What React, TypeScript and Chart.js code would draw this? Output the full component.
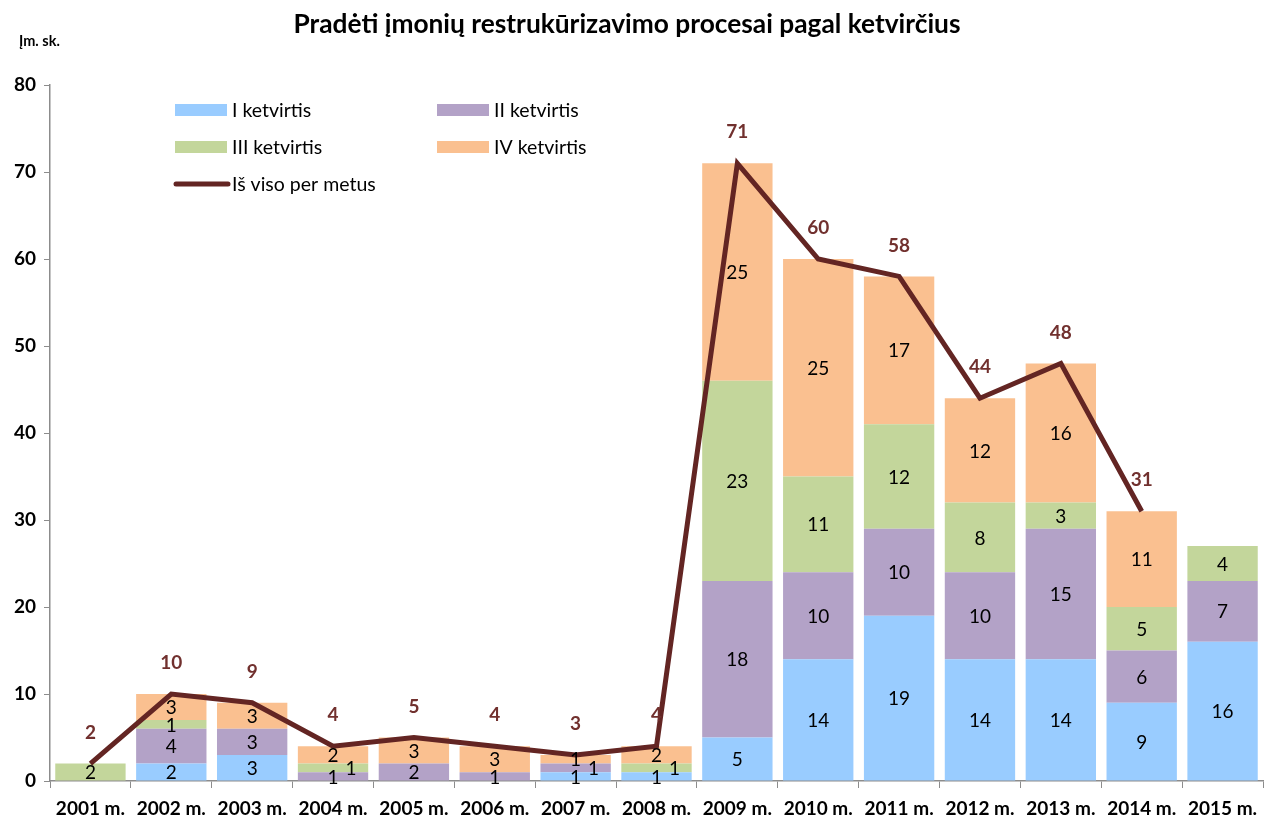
import React, { useEffect, useRef } from "react";
import { Chart, registerables } from "chart.js";

Chart.register(...registerables);

const categories = ["2001 m.", "2002 m.", "2003 m.", "2004 m.", "2005 m.", "2006 m.", "2007 m.", "2008 m.", "2009 m.", "2010 m.", "2011 m.", "2012 m.", "2013 m.", "2014 m.", "2015 m."];
const q1 = [0, 2, 3, 0, 0, 0, 1, 1, 5, 14, 19, 14, 14, 9, 16];
const q2 = [0, 4, 3, 1, 2, 1, 1, 0, 18, 10, 10, 10, 15, 6, 7];
const q3 = [2, 1, 0, 1, 0, 0, 0, 1, 23, 11, 12, 8, 3, 5, 4];
const q4 = [0, 3, 3, 2, 3, 3, 1, 2, 25, 25, 17, 12, 16, 11, 0];
const totals: (number | null)[] = [2, 10, 9, 4, 5, 4, 3, 4, 71, 60, 58, 44, 48, 31, null];
const seriesNames = ["I ketvirtis", "II ketvirtis", "III ketvirtis", "IV ketvirtis", "Iš viso per metus"];
const colors = ["#99CCFF", "#B3A2C7", "#C3D69B", "#FAC090", "#632523"];
const yTicks = [0, 10, 20, 30, 40, 50, 60, 70, 80];

const FONT = "Lato, 'Open Sans', sans-serif";

const overlayPlugin = {
  id: "overlay",
  afterDatasetsDraw(chart: any) {
    const ctx = chart.ctx;
    const area = chart.chartArea;
    ctx.save();
    // bar labels
    for (let i = 0; i < categories.length; i++) {
      let prevY: number | null = null;
      let prevShift = 0;
      for (let d = 0; d < 4; d++) {
        const v = chart.data.datasets[d].data[i];
        if (!v) continue;
        const el = chart.getDatasetMeta(d).data[i];
        const cy = (el.y + el.base) / 2;
        let shift = 0;
        if (prevY !== null && Math.abs(prevY - cy) < 14) {
          shift = prevShift === 0 ? 18 : 0;
        }
        ctx.font = `19px ${FONT}`;
        ctx.fillStyle = "#000";
        ctx.textAlign = "center";
        ctx.textBaseline = "middle";
        ctx.fillText(String(v), el.x + shift, cy + 1);
        prevY = cy;
        prevShift = shift;
      }
    }
    // line labels
    const lm = chart.getDatasetMeta(4);
    ctx.font = `bold 19px ${FONT}`;
    ctx.fillStyle = "#71302E";
    ctx.textAlign = "center";
    ctx.textBaseline = "middle";
    lm.data.forEach((p: any, i: number) => {
      const v = totals[i];
      if (v === null || v === undefined) return;
      ctx.fillText(String(v), p.x, p.y - 31);
    });
    // legend
    const lx = area.left;
    const items = [
      { t: seriesNames[0], c: colors[0], x: 125, y: 110 },
      { t: seriesNames[1], c: colors[1], x: 387, y: 110 },
      { t: seriesNames[2], c: colors[2], x: 125, y: 147 },
      { t: seriesNames[3], c: colors[3], x: 387, y: 147 },
    ];
    ctx.font = `19.5px ${FONT}`;
    ctx.textAlign = "left";
    ctx.textBaseline = "middle";
    for (const it of items) {
      ctx.fillStyle = it.c;
      ctx.fillRect(lx + it.x, it.y - 6, 52, 12);
      ctx.fillStyle = "#000";
      ctx.fillText(it.t, lx + it.x + 57, it.y + 1);
    }
    ctx.strokeStyle = colors[4];
    ctx.lineWidth = 5;
    ctx.lineCap = "round";
    ctx.beginPath();
    ctx.moveTo(lx + 126, 184);
    ctx.lineTo(lx + 178, 184);
    ctx.stroke();
    ctx.fillStyle = "#000";
    ctx.fillText(seriesNames[4], lx + 182, 185);
    // title
    ctx.font = `bold 26.3px ${FONT}`;
    ctx.textAlign = "center";
    ctx.fillText("Pradėti įmonių restrukūrizavimo procesai pagal ketvirčius", 627, 25);
    ctx.font = `bold 14.5px ${FONT}`;
    ctx.textAlign = "left";
    ctx.fillText("Įm. sk.", 19, 41);
    ctx.restore();
  },
};

export default function App() {
  const ref = useRef<HTMLCanvasElement>(null);
  useEffect(() => {
    document.body.style.margin = "0";
    const chart = new Chart(ref.current!, {
      type: "bar",
      data: {
        labels: categories,
        datasets: [
          { label: seriesNames[0], data: q1, backgroundColor: colors[0], stack: "q", order: 1 },
          { label: seriesNames[1], data: q2, backgroundColor: colors[1], stack: "q", order: 1 },
          { label: seriesNames[2], data: q3, backgroundColor: colors[2], stack: "q", order: 1 },
          { label: seriesNames[3], data: q4, backgroundColor: colors[3], stack: "q", order: 1 },
          { type: "line", label: seriesNames[4], data: totals, borderColor: colors[4], backgroundColor: colors[4], borderWidth: 5, pointRadius: 0, stack: "total", order: 0 } as any,
        ],
      },
      options: {
        responsive: false,
        animation: false,
        layout: { padding: { left: 10, right: 8, top: 85, bottom: 0 } },
        plugins: { legend: { display: false }, tooltip: { enabled: false }, title: { display: false } },
        datasets: { bar: { barPercentage: 0.87, categoryPercentage: 1 } },
        scales: {
          x: {
            stacked: true,
            grid: { drawOnChartArea: false, drawTicks: true, tickLength: 7, color: "#8C8C8C", offset: true },
            border: { color: "#8C8C8C", width: 1.5 },
            ticks: { color: "#000", font: { family: FONT, size: 19, weight: "bold" }, padding: 9, maxRotation: 0, autoSkip: false },
            afterFit: (s: any) => { s.height = 39; },
          },
          y: {
            stacked: true,
            min: 0,
            max: 80,
            afterBuildTicks: (s: any) => { s.ticks = yTicks.map((v) => ({ value: v })); },
            grid: { drawOnChartArea: false, drawTicks: true, tickLength: 6, color: "#8C8C8C" },
            border: { color: "#8C8C8C", width: 1.5 },
            ticks: { color: "#000", font: { family: FONT, size: 19, weight: "bold" }, padding: 8 },
            afterFit: (s: any) => { s.width = 40; },
          },
        },
      },
      plugins: [overlayPlugin],
    } as any);
    return () => chart.destroy();
  }, []);
  return (
    <div style={{ width: 1271, height: 820 }}>
      <canvas ref={ref} width={1271} height={820} />
    </div>
  );
}
